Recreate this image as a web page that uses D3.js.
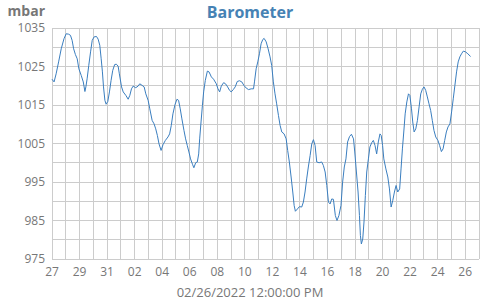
<!DOCTYPE html>
<html>
<head>
<meta charset="utf-8">
<script src="https://cdn.jsdelivr.net/npm/d3@7"></script>
<style>
  body { margin: 0; background: #fff; }
  text { font-family: "Open Sans", sans-serif; }
</style>
</head>
<body>
<div id="chart"></div>
<script>
// days since 27 Jan 2022 00:00
var dayOffsets = [0.00, 0.15, 0.30, 0.48, 0.67, 0.87, 1.03, 1.20, 1.34, 1.46, 1.57, 1.70, 1.83, 1.95,
  2.12, 2.27, 2.39, 2.46, 2.55, 2.67, 2.80, 2.92, 3.06, 3.23, 3.35, 3.47, 3.57, 3.66, 3.74, 3.84, 3.93,
  4.05, 4.17, 4.29, 4.41, 4.55, 4.67, 4.80, 4.89, 5.05, 5.17, 5.36, 5.53, 5.65, 5.77, 5.89, 6.08, 6.25,
  6.37, 6.54, 6.69, 6.81, 6.98, 7.10, 7.27, 7.41, 7.53, 7.65, 7.77, 7.92, 8.06, 8.23, 8.42, 8.54, 8.66,
  8.78, 8.93, 9.07, 9.19, 9.31, 9.43, 9.58, 9.70, 9.82, 9.94, 10.06, 10.20, 10.30, 10.43, 10.55, 10.65,
  10.72, 10.82, 10.92, 11.01, 11.13, 11.28, 11.40, 11.57, 11.73, 11.93, 12.05, 12.17, 12.29, 12.46,
  12.60, 12.75, 12.89, 13.01, 13.16, 13.30, 13.45, 13.61, 13.78, 13.93, 14.10, 14.27, 14.46, 14.63,
  14.70, 14.82, 14.94, 15.06, 15.18, 15.30, 15.40, 15.55, 15.69, 15.83, 15.95, 16.07, 16.19, 16.31,
  16.44, 16.56, 16.68, 16.85, 17.00, 17.11, 17.23, 17.36, 17.48, 17.58, 17.67, 17.82, 17.96, 18.13,
  18.25, 18.37, 18.49, 18.61, 18.74, 18.86, 18.98, 19.10, 19.22, 19.39, 19.58, 19.70, 19.83, 19.95,
  20.07, 20.19, 20.31, 20.43, 20.57, 20.69, 20.83, 20.98, 21.10, 21.22, 21.34, 21.46, 21.60, 21.74,
  21.89, 21.98, 22.10, 22.22, 22.32, 22.39, 22.46, 22.56, 22.65, 22.75, 22.85, 22.97, 23.08, 23.21,
  23.33, 23.45, 23.57, 23.69, 23.81, 23.90, 24.00, 24.09, 24.24, 24.38, 24.50, 24.62, 24.74, 24.86,
  24.98, 25.10, 25.24, 25.34, 25.44, 25.55, 25.64, 25.76, 25.88, 25.98, 26.10, 26.19, 26.29, 26.41,
  26.53, 26.65, 26.77, 26.89, 27.01, 27.13, 27.25, 27.37, 27.49, 27.61, 27.73, 27.86, 28.02, 28.14,
  28.27, 28.39, 28.51, 28.63, 28.75, 28.89, 29.01, 29.13, 29.25, 29.37, 29.49, 29.61, 29.73, 29.86,
  30.02, 30.19, 30.39];

var pressure = [1021.7, 1021.0, 1023.1, 1026.2, 1029.6, 1032.2, 1033.5, 1033.4, 1033.1, 1031.8, 1029.6,
  1028.1, 1027.0, 1024.4, 1022.7, 1021.0, 1018.5, 1019.7, 1021.8, 1025.3, 1028.8, 1031.8, 1032.7, 1032.8,
  1032.1, 1030.5, 1027.0, 1023.6, 1019.7, 1016.2, 1015.2, 1015.9, 1018.4, 1021.4, 1024.0, 1025.5, 1025.6,
  1025.1, 1023.1, 1019.7, 1018.4, 1017.5, 1016.5, 1017.5, 1019.2, 1019.9, 1019.5, 1019.9, 1020.5, 1020.1,
  1019.7, 1017.9, 1016.2, 1014.0, 1011.0, 1010.1, 1008.8, 1007.1, 1004.9, 1003.2, 1004.7, 1005.8, 1006.7,
  1007.5, 1009.7, 1012.7, 1015.1, 1016.5, 1016.2, 1014.0, 1011.4, 1008.4, 1006.2, 1004.5, 1002.8, 1001.0,
  999.6, 998.7, 1000.0, 1000.2, 1002.3, 1006.2, 1010.6, 1014.9, 1018.4, 1021.4, 1023.8, 1023.6, 1022.3,
  1021.7, 1020.5, 1019.2, 1018.4, 1019.9, 1020.8, 1020.5, 1019.7, 1018.8, 1018.4, 1019.0, 1019.7, 1021.1,
  1021.3, 1021.0, 1020.1, 1019.4, 1019.0, 1019.2, 1019.2, 1021.0, 1024.4, 1026.2, 1028.3, 1030.9, 1032.0,
  1032.3, 1031.4, 1029.6, 1027.5, 1025.3, 1021.0, 1017.9, 1015.3, 1012.3, 1009.7, 1008.0, 1007.5, 1006.2,
  1003.2, 1000.2, 996.3, 992.4, 988.9, 987.4, 988.0, 988.6, 988.5, 989.8, 992.4, 995.8, 998.9, 1001.9,
  1004.9, 1006.0, 1004.5, 1000.2, 1000.0, 1000.2, 999.3, 997.6, 994.1, 989.8, 989.3, 990.6, 990.5, 986.3,
  985.0, 986.3, 988.9, 995.0, 998.9, 1001.0, 1005.4, 1006.8, 1007.4, 1006.2, 1002.8, 997.6, 992.4, 986.3,
  981.1, 978.9, 980.2, 984.6, 991.5, 997.6, 1001.0, 1004.1, 1005.2, 1005.8, 1004.5, 1002.3, 1005.4,
  1007.5, 1007.1, 1004.5, 1001.0, 998.4, 996.3, 993.2, 988.5, 990.2, 992.4, 994.1, 992.4, 993.2, 998.4,
  1003.6, 1008.5, 1012.7, 1015.8, 1017.9, 1017.5, 1014.0, 1010.6, 1008.0, 1008.8, 1011.0, 1014.5, 1017.9,
  1019.1, 1019.7, 1018.8, 1017.1, 1015.3, 1013.6, 1011.0, 1008.4, 1006.7, 1005.8, 1004.5, 1002.9, 1003.6,
  1005.8, 1008.0, 1009.3, 1010.1, 1013.2, 1016.6, 1020.1, 1023.6, 1026.2, 1027.5, 1028.3, 1029.0, 1028.8,
  1028.3, 1027.6];

var yTicks = [975, 985, 995, 1005, 1015, 1025, 1035];
var yGrid = d3.range(975, 1036, 5);
var xTickDays = d3.range(0, 31, 2);   // 27, 29, 31, 02 ... 26
var xGridDays = d3.range(0, 32, 1);

var title = "Barometer";
var unit = "mbar";
var xTitle = "02/26/2022 12:00:00 PM";

var width = 500, height = 300;
var margin = {top: 28, right: 21, bottom: 41, left: 52};

var start = new Date(2022, 0, 27);
var end = new Date(2022, 1, 27);
function dayToDate(d) { return new Date(start.getTime() + d * 864e5); }

var data = dayOffsets.map(function(d, i) {
  return {date: dayToDate(d), value: pressure[i]};
});

var svg = d3.select("#chart")
  .append("svg")
  .attr("width", width)
  .attr("height", height);

var x = d3.scaleTime()
  .domain([start, end])
  .range([margin.left, width - margin.right]);

var y = d3.scaleLinear()
  .domain([975, 1035])
  .range([height - margin.bottom, margin.top]);

// grid
var grid = svg.append("g")
  .attr("stroke", "#cccccc")
  .attr("stroke-width", 1)
  .attr("shape-rendering", "crispEdges");

grid.selectAll("line.v")
  .data(xGridDays)
  .enter().append("line")
  .attr("class", "v")
  .attr("x1", d => x(dayToDate(d)))
  .attr("x2", d => x(dayToDate(d)))
  .attr("y1", y(975))
  .attr("y2", y(1035));

grid.selectAll("line.h")
  .data(yGrid)
  .enter().append("line")
  .attr("class", "h")
  .attr("x1", x(start))
  .attr("x2", x(end))
  .attr("y1", d => y(d))
  .attr("y2", d => y(d));

// y labels
svg.selectAll("text.ylab")
  .data(yTicks)
  .enter().append("text")
  .attr("class", "ylab")
  .attr("x", margin.left - 7)
  .attr("y", d => y(d))
  .attr("dy", "0.35em")
  .attr("text-anchor", "end")
  .attr("fill", "#777")
  .style("font-size", "12px")
  .text(d => d);

// x labels
var fmt = d3.timeFormat("%d");
svg.selectAll("text.xlab")
  .data(xTickDays)
  .enter().append("text")
  .attr("class", "xlab")
  .attr("x", d => x(dayToDate(d)))
  .attr("y", height - margin.bottom + 17)
  .attr("text-anchor", "middle")
  .attr("fill", "#777")
  .style("font-size", "12px")
  .text(d => fmt(dayToDate(d)));

// line
var line = d3.line()
  .x(d => x(d.date))
  .y(d => y(d.value));

svg.append("path")
  .datum(data)
  .attr("fill", "none")
  .attr("stroke", "#3a7ebf")
  .attr("stroke-width", 1)
  .attr("d", line);

// titles
svg.append("text")
  .attr("x", 250)
  .attr("y", 18)
  .attr("text-anchor", "middle")
  .attr("fill", "#4682b4")
  .style("font-size", "16px")
  .style("font-weight", "bold")
  .text(title);

svg.append("text")
  .attr("x", 45)
  .attr("y", 16)
  .attr("text-anchor", "end")
  .attr("fill", "#777")
  .style("font-size", "14px")
  .style("font-weight", "bold")
  .text(unit);

svg.append("text")
  .attr("x", 250)
  .attr("y", 297)
  .attr("text-anchor", "middle")
  .attr("fill", "#777")
  .style("font-size", "13px")
  .text(xTitle);
</script>
</body>
</html>
